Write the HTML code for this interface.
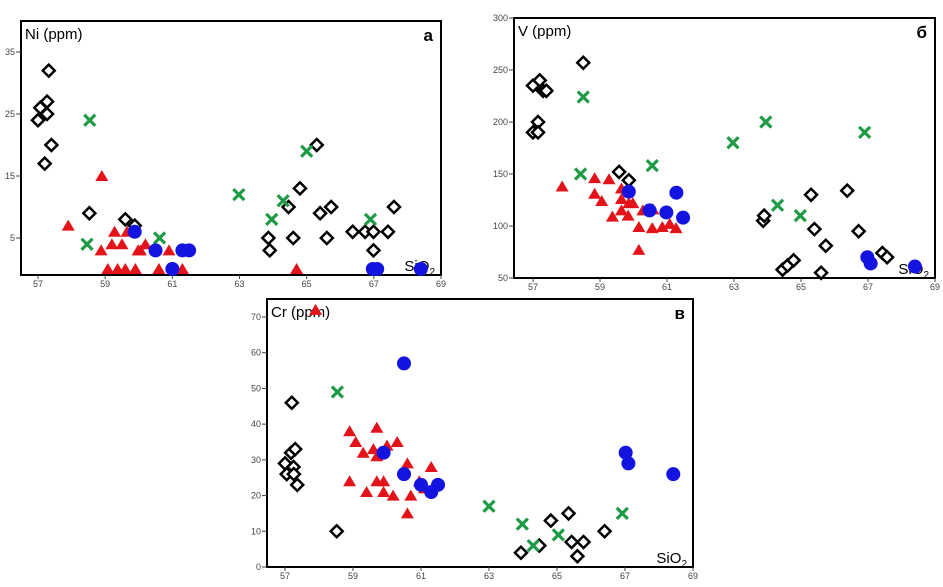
<!DOCTYPE html>
<html><head><meta charset="utf-8">
<style>
html,body{margin:0;padding:0;background:#fff;}
svg{display:block;font-family:"Liberation Sans","DejaVu Sans",sans-serif;}
</style></head>
<body>
<svg id="chart" width="943" height="587" viewBox="0 0 943 587" xmlns="http://www.w3.org/2000/svg"></svg>
<script>
// ---- Panel a: Ni ----
const niDiamond = [[57.32,32],[57.27,27],[57.07,26],[57.27,25],[57,24],[57.4,20],[57.2,17],[58.53,9],[59.6,8],[59.88,7],[63.86,5],[63.9,3],[64.46,10],[64.8,13],[64.6,5],[65.3,20],[65.4,9],[65.73,10],[65.6,5],[66.37,6],[66.74,6],[66.99,6],[66.99,3],[67.42,6],[67.6,10]];
const niCross = [[58.54,24],[58.46,4],[60.62,5],[62.98,12],[63.96,8],[64.3,11],[65,19],[66.9,8]];
const niTriangle = [[57.9,7],[58.9,15],[58.88,3],[59.28,6],[59.2,4],[59.5,4],[59.65,6],[59.08,0],[59.37,0],[59.6,0],[59.9,0],[59.98,3],[60.2,4],[60.05,3],[60.6,0],[60.9,3],[61.3,0],[64.7,0]];
const niCircle = [[59.88,6],[60.5,3],[61,0],[61.3,3],[61.5,3],[66.97,0],[67.1,0],[68.4,0]];
const niYTicks = [5,15,25,35];
// ---- Panel б: V ----
const vDiamond = [[57,235],[57.2,240],[57.3,230],[57.4,230],[57.15,200],[57,190],[57.15,190],[58.5,257],[59.57,152],[59.86,144],[63.87,105],[63.9,110],[64.45,58],[64.6,62],[64.78,67],[65.3,130],[65.4,97],[65.74,81],[65.6,55],[66.38,134],[66.72,95],[67.43,74],[67.57,70]];
const vCross = [[58.5,224],[58.42,150],[60.56,158],[62.97,180],[63.95,200],[64.3,120],[64.98,110],[66.9,190]];
const vTriangle = [[57.87,138],[58.84,146],[59.27,145],[58.84,131],[59.05,124],[59.37,109],[59.64,115],[59.64,126],[59.64,136],[59.86,122],[59.98,122],[59.84,110],[60.16,99],[60.56,98],[60.58,116],[60.86,99],[61.08,102],[61.27,98],[60.16,77],[60.28,115]];
const vCircle = [[59.86,133],[60.48,115],[60.98,113],[61.28,132],[61.48,108],[66.98,70],[67.08,64],[68.4,61]];
const vYTicks = [50,100,150,200,250,300];
// ---- Panel в: Cr ----
const crDiamond = [[57.2,46],[57,29],[57.05,26],[57.18,32],[57.3,33],[57.25,28],[57.26,26],[57.36,23],[58.52,10],[63.94,4],[64.48,6],[64.82,13],[65.34,15],[65.43,7],[65.78,7],[65.6,3],[66.4,10]];
const crCross = [[58.54,49],[63,17],[63.98,12],[64.3,6],[65.04,9],[66.92,15]];
const crTriangle = [[57.9,72],[58.9,38],[59.08,35],[59.3,32],[59.6,33],[59.7,39],[59.7,31],[60,34],[60.3,35],[58.9,24],[59.4,21],[59.7,24],[59.9,24],[59.9,21],[60.18,20],[60.6,29],[60.7,20],[60.6,15],[60.95,24],[61.1,22],[61.3,28]];
const crCircle = [[60.5,57],[59.9,32],[60.5,26],[61,23],[61.3,21],[61.5,23],[67.02,32],[67.1,29],[68.42,26]];
const crYTicks = [0,10,20,30,40,50,60,70];
const xTicks = [57,59,61,63,65,67,69];

const NS = "http://www.w3.org/2000/svg";
const svg = document.getElementById('chart');
function mk(tag, attrs, parent){const e=document.createElementNS(NS,tag);for(const k in attrs)e.setAttribute(k,attrs[k]);(parent||svg).appendChild(e);return e;}

const panels = [
 {key:'ni', name:'Ni (ppm)', letter:'а', box:[21,21,441,275], x0:[57,38], x1:[69,441], y0:[5,238], y1:[35,52], yt:niYTicks, d:niDiamond, c:niCross, t:niTriangle, o:niCircle},
 {key:'v', name:'V (ppm)', letter:'б', box:[514,18,935,278], x0:[57,533], x1:[69,935], y0:[50,278], y1:[300,18], yt:vYTicks, d:vDiamond, c:vCross, t:vTriangle, o:vCircle},
 {key:'cr', name:'Cr (ppm)', letter:'в', box:[267,299,693,567], x0:[57,285], x1:[69,693], y0:[0,567], y1:[70,317], yt:crYTicks, d:crDiamond, c:crCross, t:crTriangle, o:crCircle}
];

panels.forEach(p=>{
  const g = mk('g',{});
  
  
  const sx = v => p.x0[1] + (v-p.x0[0])*(p.x1[1]-p.x0[1])/(p.x1[0]-p.x0[0]);
  const sy = v => p.y0[1] + (v-p.y0[0])*(p.y1[1]-p.y0[1])/(p.y1[0]-p.y0[0]);
  const [L,T,R,B] = p.box;
  const frame = mk('rect',{x:L,y:T,width:R-L,height:B-T,fill:'none',stroke:'#000','stroke-width':2},g);
  
  
  p.yt.forEach(v=>{
    const y=sy(v);
    mk('line',{x1:L-5,y1:y,x2:L,y2:y,stroke:'#444','stroke-width':1},g);
    const t=mk('text',{x:L-6,y:y+3,'font-size':9,fill:'#444','text-anchor':'end'},g);
    t.textContent=v;
    
    
  });
  xTicks.forEach(v=>{
    const x=sx(v);
    mk('line',{x1:x,y1:B,x2:x,y2:B+4,stroke:'#444','stroke-width':1},g);
    const t=mk('text',{x:x,y:B+12,'font-size':9,fill:'#444','text-anchor':'middle'},g);
    t.textContent=v;
    
    
  });
  const yl=mk('text',{x:L+4,y:T+18,'font-size':15,fill:'#000'},g);
  yl.textContent=p.name;
  
  
  const lt=mk('text',{x:R-8,y:T+20,'font-size':17,'font-weight':'bold',fill:'#000','text-anchor':'end'},g);
  lt.textContent=p.letter;
  
  
  const xl=mk('text',{x:R-6,y:B-4,'font-size':15,fill:'#000','text-anchor':'end'},g);
  xl.innerHTML='SiO<tspan font-size="10" dy="4">2</tspan>';
  
  
  p.d.forEach(([a,b])=>{
    const x=sx(a),y=sy(b),r=6;
    const e=mk('polygon',{points:`${x},${y-r} ${x+r},${y} ${x},${y+r} ${x-r},${y}`,fill:'#fff',stroke:'#000','stroke-width':2.5},g);
    
    
  });
  p.t.forEach(([a,b])=>{
    const x=sx(a),y=sy(b);
    const e=mk('polygon',{points:`${x},${y-6} ${x+6.5},${y+5} ${x-6.5},${y+5}`,fill:'#e2141a'},g);
    
    
  });
  p.c.forEach(([a,b])=>{
    const x=sx(a),y=sy(b),r=5.5;
    const e=mk('path',{d:`M${x-r},${y-r}L${x+r},${y+r}M${x+r},${y-r}L${x-r},${y+r}`,stroke:'#1f9a45','stroke-width':3.2,fill:'none'},g);
    
    
  });
  p.o.forEach(([a,b])=>{
    const e=mk('circle',{cx:sx(a),cy:sy(b),r:7,fill:'#1414e0'},g);
    
    
  });
});
</script>
</body></html>
